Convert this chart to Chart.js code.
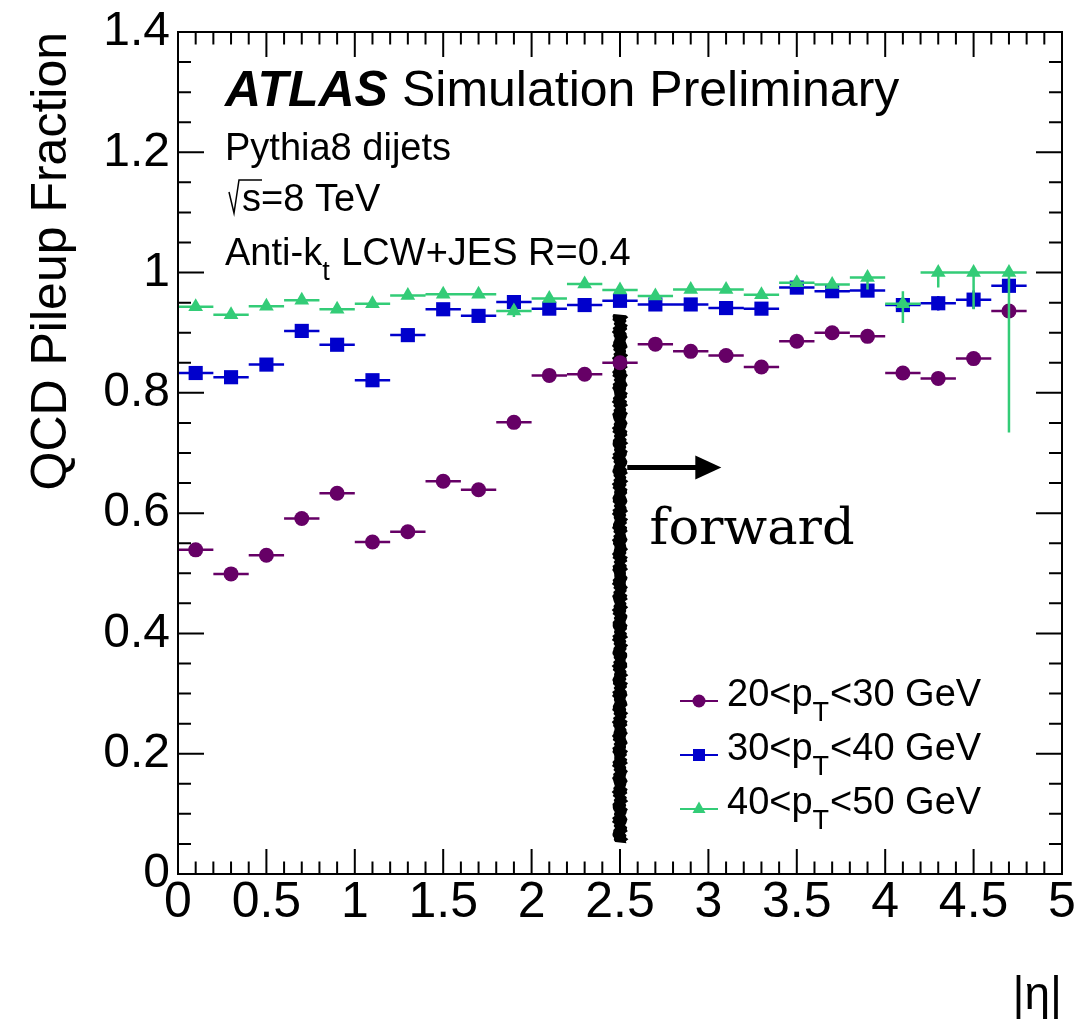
<!DOCTYPE html>
<html>
<head>
<meta charset="utf-8">
<script src="https://cdn.jsdelivr.net/npm/chart.js@4.4.1/dist/chart.umd.min.js"></script>
<style>
  html, body { margin: 0; padding: 0; background: #fff; }
  canvas { display: block; }
</style>
</head>
<body>
<canvas id="myChart" width="1091" height="1019"></canvas>
<script>
// |eta| bin centres (bins are 0.2 wide)
var etaBins = [0.1, 0.3, 0.5, 0.7, 0.9, 1.1, 1.3, 1.5, 1.7, 1.9, 2.1, 2.3,
               2.5, 2.7, 2.9, 3.1, 3.3, 3.5, 3.7, 3.9, 4.1, 4.3, 4.5, 4.7];
var etaHalfWidth = 0.1;

// 20 < pT < 30 GeV
var frac2030 = [0.539, 0.499, 0.530, 0.591, 0.633, 0.552, 0.569, 0.653, 0.639, 0.751, 0.829, 0.831,
                0.850, 0.881, 0.869, 0.862, 0.843, 0.886, 0.900, 0.894, 0.833, 0.824, 0.857, 0.936];
// 30 < pT < 40 GeV
var frac3040 = [0.833, 0.826, 0.847, 0.903, 0.880, 0.821, 0.896, 0.939, 0.928, 0.951, 0.940, 0.946,
                0.953, 0.947, 0.947, 0.941, 0.940, 0.975, 0.969, 0.970, 0.946, 0.949, 0.955, 0.978];
var err3040 = [0, 0, 0, 0, 0, 0, 0, 0, 0, 0, 0, 0,
               0, 0, 0, 0, 0, 0, 0, 0, 0.012, 0.012, 0.015, 0.012];
// 40 < pT < 50 GeV
var frac4050 = [0.943, 0.930, 0.944, 0.954, 0.939, 0.948, 0.962, 0.964, 0.964, 0.936, 0.957, 0.981,
                0.971, 0.961, 0.972, 0.972, 0.963, 0.983, 0.980, 0.992, 0.948, 1.000, 1.000, 1.000];
var err4050Lo = [0, 0, 0, 0, 0, 0, 0, 0, 0, 0.010, 0, 0,
                 0, 0, 0, 0, 0, 0, 0, 0.020, 0.032, 0.025, 0.061, 0.266];
var err4050Hi = [0, 0, 0, 0, 0, 0, 0, 0, 0, 0.010, 0, 0,
                 0, 0, 0, 0, 0, 0, 0, 0, 0.021, 0, 0, 0];

var xTickValues = [0, 0.5, 1, 1.5, 2, 2.5, 3, 3.5, 4, 4.5, 5];
var xTickLabels = ['0', '0.5', '1', '1.5', '2', '2.5', '3', '3.5', '4', '4.5', '5'];
var yTickValues = [0, 0.2, 0.4, 0.6, 0.8, 1, 1.2, 1.4];
var yTickLabels = ['0', '0.2', '0.4', '0.6', '0.8', '1', '1.2', '1.4'];

var FONT = "'Liberation Sans', Arial, Helvetica, sans-serif";
var colPurple = '#660066';
var colBlue = '#0000cc';
var colGreen = '#33cc77';

var series = [
  { label: ['20<p', 'T', '<30 GeV'], vals: frac2030, lo: null, hi: null, color: colPurple, style: 'circle' },
  { label: ['30<p', 'T', '<40 GeV'], vals: frac3040, lo: err3040, hi: err3040, color: colBlue, style: 'rect' },
  { label: ['40<p', 'T', '<50 GeV'], vals: frac4050, lo: err4050Lo, hi: err4050Hi, color: colGreen, style: 'triangle' }
];

function pts(vals) {
  var out = [];
  for (var i = 0; i < etaBins.length; i++) out.push({ x: etaBins[i], y: vals[i] });
  return out;
}

function pickLabel(values, labels, v) {
  for (var i = 0; i < values.length; i++) {
    if (Math.abs(values[i] - v) < 1e-6) return labels[i];
  }
  return '';
}

// text with a subscript in the middle: [before, sub, after]
function subText(ctx, parts, x, y, size) {
  ctx.font = size + 'px ' + FONT;
  ctx.fillText(parts[0], x, y);
  x += ctx.measureText(parts[0]).width;
  var ss = Math.round(size * 0.7);
  ctx.font = ss + 'px ' + FONT;
  ctx.fillText(parts[1], x, y + size * 0.4);
  x += ctx.measureText(parts[1]).width + 1;
  ctx.font = size + 'px ' + FONT;
  ctx.fillText(parts[2], x, y);
}

function marker(ctx, style, x, y, r, color) {
  ctx.fillStyle = color;
  ctx.beginPath();
  if (style === 'circle') {
    ctx.arc(x, y, r, 0, Math.PI * 2);
  } else if (style === 'rect') {
    ctx.rect(x - r, y - r, 2 * r, 2 * r);
  } else {
    ctx.moveTo(x, y - r * 1.15);
    ctx.lineTo(x + r, y + r * 0.6);
    ctx.lineTo(x - r, y + r * 0.6);
    ctx.closePath();
  }
  ctx.fill();
}

var decor = {
  id: 'decor',
  beforeDatasetsDraw: function (chart) {
    var ctx = chart.ctx, xs = chart.scales.x, ys = chart.scales.y;
    // hand drawn marker line at |eta| = 2.5
    var xc = xs.getPixelForValue(2.5);
    var yTop = ys.getPixelForValue(0.931), yBot = ys.getPixelForValue(0.051);
    ctx.save();
    ctx.fillStyle = '#000';
    ctx.beginPath();
    var k = 0, y;
    for (y = yTop; y <= yBot; y += 2, k++) {
      ctx.lineTo(xc - 6.5 - 1.0 * Math.sin(k * 0.9) - 0.9 * Math.sin(k * 2.9), y);
    }
    for (y = yBot; y >= yTop; y -= 2, k++) {
      ctx.lineTo(xc + 6.5 + 1.0 * Math.sin(k * 1.3) + 0.9 * Math.sin(k * 3.3), y);
    }
    ctx.closePath();
    ctx.fill();
    ctx.restore();
  },
  beforeDatasetDraw: function (chart, args) {
    var s = series[args.index];
    var ctx = chart.ctx, xs = chart.scales.x, ys = chart.scales.y;
    ctx.save();
    ctx.strokeStyle = s.color;
    ctx.lineWidth = 2.5;
    ctx.beginPath();
    for (var i = 0; i < etaBins.length; i++) {
      var y = ys.getPixelForValue(s.vals[i]);
      var xc = xs.getPixelForValue(etaBins[i]);
      ctx.moveTo(xs.getPixelForValue(etaBins[i] - etaHalfWidth), y);
      ctx.lineTo(xs.getPixelForValue(etaBins[i] + etaHalfWidth), y);
      if (s.lo && (s.lo[i] > 0 || s.hi[i] > 0)) {
        ctx.moveTo(xc, ys.getPixelForValue(s.vals[i] - s.lo[i]));
        ctx.lineTo(xc, ys.getPixelForValue(s.vals[i] + s.hi[i]));
      }
    }
    ctx.stroke();
    ctx.restore();
  },
  afterDatasetsDraw: function (chart) {
    var ctx = chart.ctx, xs = chart.scales.x, ys = chart.scales.y;
    var ca = chart.chartArea;
    ctx.save();

    // frame + inward ticks on all four sides
    ctx.strokeStyle = '#000';
    ctx.lineWidth = 2;
    ctx.beginPath();
    var t, p, len;
    for (t = 0; t <= 50; t++) {
      p = xs.getPixelForValue(t / 10);
      len = (t % 5 === 0) ? 25 : 12.5;
      ctx.moveTo(p, ca.bottom); ctx.lineTo(p, ca.bottom - len);
      ctx.moveTo(p, ca.top); ctx.lineTo(p, ca.top + len);
    }
    for (t = 0; t <= 28; t++) {
      p = ys.getPixelForValue(t * 0.05);
      len = (t % 4 === 0) ? 26 : 13;
      ctx.moveTo(ca.left, p); ctx.lineTo(ca.left + len, p);
      ctx.moveTo(ca.right, p); ctx.lineTo(ca.right - len, p);
    }
    ctx.stroke();
    ctx.strokeRect(ca.left, ca.top, ca.right - ca.left, ca.bottom - ca.top);

    // arrow + "forward"
    var ay = ys.getPixelForValue(0.676);
    var ax0 = xs.getPixelForValue(2.541), ax1 = xs.getPixelForValue(3.073);
    ctx.lineWidth = 5;
    ctx.beginPath();
    ctx.moveTo(ax0, ay); ctx.lineTo(ax1 - 20, ay);
    ctx.stroke();
    ctx.fillStyle = '#000';
    ctx.beginPath();
    ctx.moveTo(ax1, ay); ctx.lineTo(ax1 - 26, ay - 12); ctx.lineTo(ax1 - 26, ay + 12);
    ctx.closePath();
    ctx.fill();
    ctx.font = "51px 'DejaVu Serif', 'Liberation Serif', serif";
    ctx.textBaseline = 'alphabetic';
    ctx.textAlign = 'left';
    ctx.fillText('forward', xs.getPixelForValue(2.667), ys.getPixelForValue(0.548));

    // ATLAS label block
    var lx = ca.left + 47;
    ctx.font = 'italic bold 50px ' + FONT;
    ctx.fillText('ATLAS', lx, ca.top + 74);
    var w = ctx.measureText('ATLAS').width;
    ctx.font = '50px ' + FONT;
    ctx.fillText('Simulation Preliminary', lx + w + 14, ca.top + 74);
    ctx.font = '38px ' + FONT;
    ctx.fillText('Pythia8 dijets', lx, ca.top + 128);
    // sqrt(s)
    ctx.lineWidth = 1.5;
    ctx.beginPath();
    ctx.moveTo(lx + 4, ca.top + 160);
    ctx.lineTo(lx + 9, ca.top + 181);
    ctx.lineTo(lx + 14, ca.top + 148);
    ctx.lineTo(lx + 37, ca.top + 148);
    ctx.stroke();
    ctx.fillText('s=8 TeV', lx + 17, ca.top + 179);
    subText(ctx, ['Anti-k', 't', ' LCW+JES R=0.4'], lx, ca.top + 233, 38);

    // legend
    for (var i = 0; i < series.length; i++) {
      var s = series[i];
      var cy = ca.top + 669 + i * 54;
      ctx.strokeStyle = s.color;
      ctx.lineWidth = 2;
      ctx.beginPath();
      ctx.moveTo(680, cy); ctx.lineTo(718, cy);
      ctx.stroke();
      marker(ctx, s.style, 699, cy, s.style === 'rect' ? 6 : 6.5, s.color);
      ctx.fillStyle = '#000';
      subText(ctx, s.label, 727, cy + 5, 38);
    }
    ctx.restore();
  }
};

var ctx = document.getElementById('myChart').getContext('2d');
var myChart = new Chart(ctx, {
  type: 'scatter',
  data: {
    datasets: [
      { label: '20<pT<30 GeV', data: pts(frac2030), pointStyle: 'circle', pointRadius: 7.5,
        backgroundColor: colPurple, borderColor: colPurple, borderWidth: 0, order: 3 },
      { label: '30<pT<40 GeV', data: pts(frac3040), pointStyle: 'rect', pointRadius: 10,
        backgroundColor: colBlue, borderColor: colBlue, borderWidth: 0, order: 2 },
      { label: '40<pT<50 GeV', data: pts(frac4050), pointStyle: 'triangle', pointRadius: 8.5,
        backgroundColor: colGreen, borderColor: colGreen, borderWidth: 0, order: 1 }
    ]
  },
  options: {
    responsive: false,
    animation: false,
    devicePixelRatio: 1,
    layout: { padding: { left: 14, right: 29, top: 29, bottom: 0 } },
    plugins: { legend: { display: false }, tooltip: { enabled: false } },
    scales: {
      x: {
        type: 'linear', min: 0, max: 5,
        grid: { display: false, drawTicks: false },
        border: { display: false },
        ticks: {
          stepSize: 0.5, padding: 4, autoSkip: false, maxRotation: 0, color: '#000',
          font: { family: FONT, size: 50, lineHeight: 1 },
          callback: function (v) { return pickLabel(xTickValues, xTickLabels, v); }
        },
        title: { display: true, text: '|η|', align: 'end', color: '#000', padding: 0,
                 font: { family: FONT, size: 46, lineHeight: 1 } },
        afterFit: function (s) { s.height = 145; }
      },
      y: {
        type: 'linear', min: 0, max: 1.4,
        grid: { display: false, drawTicks: false },
        border: { display: false },
        ticks: {
          stepSize: 0.2, padding: 8, color: '#000',
          font: { family: FONT, size: 48, lineHeight: 1 },
          callback: function (v) { return pickLabel(yTickValues, yTickLabels, v); }
        },
        title: { display: true, text: 'QCD Pileup Fraction', align: 'end', color: '#000',
                 padding: { top: 8, bottom: 0 }, font: { family: FONT, size: 50, lineHeight: 1.2 } },
        afterFit: function (s) { s.width = 164; }
      }
    }
  },
  plugins: [decor]
});
</script>
</body>
</html>
